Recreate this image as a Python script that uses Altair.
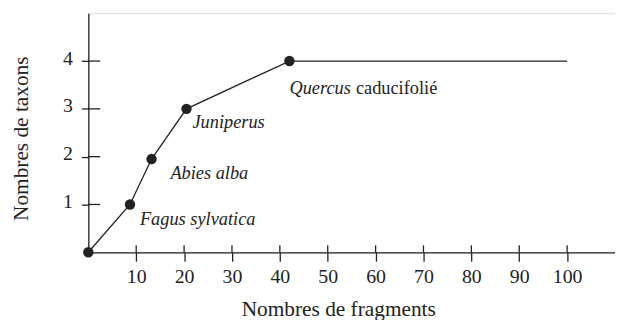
import altair as alt
import pandas as pd

# Data
x_frag = [0, 8.7, 13.2, 20.5, 42, 100]
y_taxa = [0, 1, 1.95, 3, 4, 4]
marker_count = 5  # the last line vertex (100) has no marker

label_taxa = ["Fagus sylvatica", "Abies alba", "Juniperus", "Quercus"]
label_x = [8.7, 13.2, 20.5, 42]
label_y = [1, 1.95, 3, 4]
extra_text = "caducifolié"

x_ticks = [10, 20, 30, 40, 50, 60, 70, 80, 90, 100]
y_ticks = [1, 2, 3, 4]

FONT = "Liberation Serif"
INK = "#222222"
W, H = 531, 241

line_df = pd.DataFrame({"x": x_frag, "y": y_taxa})
pt_df = line_df.iloc[:marker_count]
lab_df = pd.DataFrame({"x": label_x, "y": label_y, "t": label_taxa})

xs = alt.Scale(domain=[0, 110], nice=False, zero=False)
ys = alt.Scale(domain=[0, 5], nice=False, zero=False)

xaxis = alt.Axis(values=x_ticks, grid=False, domainColor=INK, domainWidth=1.3,
                 tickColor=INK, tickWidth=1.3, tickSize=9, labelFont=FONT,
                 labelFontSize=20, labelColor=INK, labelPadding=5,
                 title="Nombres de fragments", titleFont=FONT, titleFontSize=21.5,
                 titleFontWeight="normal", titleColor=INK, titleX=252, titleY=64,
                 titleAlign="center", titleBaseline="alphabetic")
yaxis = alt.Axis(values=y_ticks, grid=False, domainColor=INK, domainWidth=1.3,
                 tickColor=INK, tickWidth=1.3, tickSize=7, labelFont=FONT,
                 labelFontSize=20, labelColor=INK, labelPadding=9, labelOffset=-3,
                 title="Nombres de taxons", titleFont=FONT, titleFontSize=21.5,
                 titleFontWeight="normal", titleColor=INK, titleAngle=270,
                 titleX=-61, titleY=126, titleAlign="center",
                 titleBaseline="alphabetic")

base = alt.Chart(line_df)
line = base.mark_line(color=INK, strokeWidth=1.3).encode(
    x=alt.X("x:Q", scale=xs, axis=xaxis),
    y=alt.Y("y:Q", scale=ys, axis=yaxis),
)
pts = alt.Chart(pt_df).mark_point(filled=True, color=INK, size=110, opacity=1).encode(
    x=alt.X("x:Q", scale=xs), y=alt.Y("y:Q", scale=ys))

# inward parts of the crossing ticks
xt_in = alt.Chart(pd.DataFrame({"v": x_ticks})).mark_rule(color=INK, strokeWidth=1.3).encode(
    x=alt.X("v:Q", scale=xs), y=alt.value(H - 7), y2=alt.value(H))
yt_in = alt.Chart(pd.DataFrame({"v": y_ticks})).mark_rule(color=INK, strokeWidth=1.3).encode(
    y=alt.Y("v:Q", scale=ys), x=alt.value(0), x2=alt.value(12))

offsets = [(10, 21), (19, 20), (6, 19), (0, 33)]
labels = []
for i, (dx, dy) in enumerate(offsets):
    labels.append(
        alt.Chart(lab_df.iloc[[i]]).mark_text(
            align="left", baseline="alphabetic", dx=dx, dy=dy, font=FONT,
            fontSize=18.5, fontStyle="italic", color=INK
        ).encode(x=alt.X("x:Q", scale=xs), y=alt.Y("y:Q", scale=ys), text="t:N")
    )
labels.append(
    alt.Chart(lab_df.iloc[[3]].assign(t=extra_text)).mark_text(
        align="left", baseline="alphabetic", dx=67, dy=33, font=FONT,
        fontSize=18.5, color=INK
    ).encode(x=alt.X("x:Q", scale=xs), y=alt.Y("y:Q", scale=ys), text="t:N")
)

chart = alt.layer(line, xt_in, yt_in, pts, *labels).properties(
    width=W, height=H,
    autosize=alt.AutoSizeParams(type="none"),
    padding={"left": 81, "top": 4, "right": 0, "bottom": 68},
).configure_view(stroke=None).configure(background="white")

chart.save("out.html", embed_options={"renderer": "svg", "actions": False})
